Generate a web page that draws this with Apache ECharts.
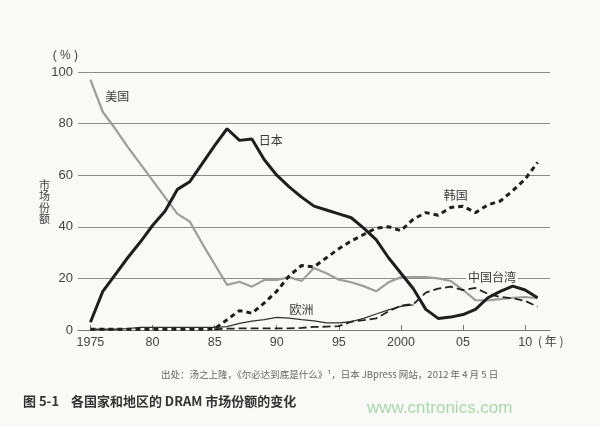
<!DOCTYPE html>
<html>
<head>
<meta charset="utf-8">
<script src="https://cdn.jsdelivr.net/npm/echarts@6/dist/echarts.min.js"></script>
<style>
html,body{margin:0;padding:0;background:#f9f9f8;}
#chart{width:600px;height:427px;}
</style>
</head>
<body>
<div id="chart"></div>
<script>
const years = ['1974','1975','1976','1977','1978','1979','1980','1981','1982','1983','1984','1985','1986','1987','1988','1989','1990','1991','1992','1993','1994','1995','1996','1997','1998','1999','2000','2001','2002','2003','2004','2005','2006','2007','2008','2009','2010','2011','2012'];
const yearLabels = {'1975':'1975','1980':'80','1985':'85','1990':'90','1995':'95','2000':'2000','2005':'05','2010':'10'};
const yTicks = [0, 20, 40, 60, 80, 100];

const usa = [null,97,84.5,78,71,64.5,58,51.5,45,42,33.5,25.5,17.5,18.7,16.8,19.4,19.4,20.5,19,24,22,19.5,18.5,17,15,18.5,20.5,20.5,20.5,20,19,15.5,11.6,11.5,12,12.5,12.8,12.3,null];
const japan = [null,3,15,21.5,28,34,40.5,46,54.5,57.5,64.5,71.5,78,73.5,74,66,60,55.5,51.5,48,46.5,45,43.5,39.5,35,28,22,16,8,4.5,5,6,8,12.5,15,17,15.5,12.5,null];
const korea = [null,0.3,0.3,0.3,0.3,0.3,0.3,0.3,0.3,0.3,0.3,0.5,4,7.5,6.5,10.5,15,21,25,24.5,28,31.5,34.5,37,39.5,40,38.5,43,45.5,44.5,47.5,48,45.5,48.5,50,54,58.5,65,null];
const taiwan = [null,null,null,null,null,null,null,null,null,null,null,0.3,0.5,0.6,0.6,0.6,0.6,0.6,0.8,1.2,1.3,1.5,3.2,3.8,4.5,7.2,9.5,10,14.5,16,16.8,15.5,16.3,14,12.8,12.3,11.3,9,null];
const europe = [null,0.3,0.3,0.3,0.5,1,1,1,1,1,1,1,1.3,2.6,3.4,4,4.9,4.6,4,3.5,2.8,2.8,3.2,4.5,6.2,7.8,9.2,9.7,null,null,null,null,null,null,null,null,null,null,null];

// series name labels: [text, category, value, dx, dy]
const seriesLabels = {
  usa: ['美国', '1977', 90.4, 2, 0],
  japan: ['日本', '1990', 73.6, -6, 0],
  korea: ['韩国', '2004', 52.3, 5, 0],
  taiwan: ['中国台湾', '2007', 20.2, 4, 0],
  europe: ['欧洲', '1992', 8.1, 0, 0]
};

const FONT = '"Liberation Sans", "Noto Sans CJK SC", sans-serif';
const CJK = '"Noto Sans CJK SC", "Liberation Sans", sans-serif';

function mk(key, bg) {
  const l = seriesLabels[key];
  return {
    symbol: 'circle', symbolSize: 0, silent: true,
    data: [{coord: [l[1], l[2]], value: l[0]}],
    label: {
      show: true, position: 'inside', formatter: l[0], offset: [l[3], l[4]],
      color: '#3a3a3a', fontSize: 12, fontFamily: CJK,
      backgroundColor: bg || 'transparent', padding: bg ? [0, 2] : 0
    }
  };
}

const chart = echarts.init(document.getElementById('chart'), null, {renderer: 'canvas'});
chart.setOption({
  backgroundColor: '#f9f9f8',
  animation: false,
  grid: {left: 78, right: 50, top: 72, bottom: 97, containLabel: false},
  title: [
    {text: '市\n场\n份\n额', left: 34, top: 174, textStyle: {fontSize: 11, lineHeight: 11.5, color: '#444', fontWeight: 'normal', fontFamily: CJK}},
    {text: '出处：汤之上隆，《尔必达到底是什么》¹，日本 JBpress 网站，2012 年 4 月 5 日', left: 156, top: 365, textStyle: {fontSize: 9.5, color: '#666', fontWeight: 'normal', fontFamily: CJK}},
    {text: '图 5-1    各国家和地区的 DRAM 市场份额的变化', left: 18, top: 390, textStyle: {fontSize: 13, color: '#333', fontWeight: 'bold', fontFamily: CJK}},
    {text: 'www.cntronics.com', left: 362, top: 395, textStyle: {fontSize: 17, color: '#a9d8a9', fontWeight: 'normal', fontFamily: FONT}}
  ],
  xAxis: {
    type: 'category', data: years, boundaryGap: false,
    name: '( 年 )', nameLocation: 'end', nameGap: -12,
    nameTextStyle: {color: '#444', fontSize: 12, fontFamily: CJK, verticalAlign: 'top', align: 'left', padding: [5, 0, 0, 0]},
    axisLine: {show: true, lineStyle: {color: '#777', width: 1}},
    axisTick: {show: true, inside: true, length: 5, interval: (i, v) => yearLabels[v] !== undefined, lineStyle: {color: '#777'}},
    axisLabel: {interval: (i, v) => yearLabels[v] !== undefined, formatter: v => yearLabels[v] || '', color: '#444', fontSize: 12.5, fontFamily: FONT, margin: 6},
    splitLine: {show: false}
  },
  yAxis: {
    type: 'value', min: yTicks[0], max: yTicks[yTicks.length - 1], interval: 20,
    name: '( % )', nameLocation: 'end', nameGap: 10,
    nameTextStyle: {color: '#444', fontSize: 12, fontFamily: FONT, align: 'right', padding: [0, 0, 0, 0]},
    axisLine: {show: false}, axisTick: {show: false},
    axisLabel: {color: '#444', fontSize: 13, fontFamily: FONT, margin: 5},
    splitLine: {show: true, lineStyle: {color: '#8c8c8c', width: 1}}
  },
  series: [
    {name: '美国', type: 'line', data: usa, showSymbol: false, symbol: 'none', connectNulls: false, z: 2,
     lineStyle: {color: '#9d9d9d', width: 2.2}, markPoint: mk('usa')},
    {name: '欧洲', type: 'line', data: europe, showSymbol: false, symbol: 'none', z: 3,
     lineStyle: {color: '#333', width: 1.3}, markPoint: mk('europe')},
    {name: '中国台湾', type: 'line', data: taiwan, showSymbol: false, symbol: 'none', z: 4,
     lineStyle: {color: '#222', width: 1.8, type: [8, 4]}, markPoint: mk('taiwan', '#f9f9f8')},
    {name: '韩国', type: 'line', data: korea, showSymbol: false, symbol: 'none', z: 5,
     lineStyle: {color: '#1e1e1e', width: 3, type: [5, 4]}, markPoint: mk('korea')},
    {name: '日本', type: 'line', data: japan, showSymbol: false, symbol: 'none', z: 6,
     lineStyle: {color: '#1e1e1e', width: 3}, markPoint: mk('japan')}
  ]
});
</script>
</body>
</html>
